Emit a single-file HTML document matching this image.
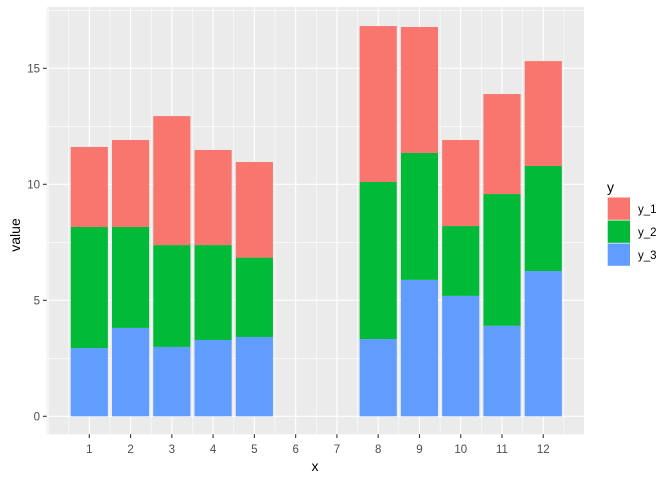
<!DOCTYPE html>
<html><head><meta charset="utf-8"><style>
body{margin:0;background:#fff;}
text{font-family:"Liberation Sans",Arial,sans-serif;}
</style></head><body>
<svg width="672" height="480" xmlns="http://www.w3.org/2000/svg">
<rect x="46.7" y="7" width="538.3" height="427.3" fill="#ebebeb"/>
<g id="grid"></g>
<g id="bars"></g>
<g id="axes"></g>
<text x="315" y="471" font-size="14" text-anchor="middle" fill="#000">x</text>
<text transform="translate(20,235) rotate(-90)" font-size="14" text-anchor="middle" fill="#000">value</text>
<g>
<text x="607" y="192" font-size="14">y</text>
<rect x="607.7" y="197.5" width="22.3" height="22.3" fill="#F8766D"/>
<rect x="607.7" y="220.5" width="22.3" height="22.3" fill="#00BA38"/>
<rect x="607.7" y="243.5" width="22.3" height="22.3" fill="#619CFF"/>
<text x="638" y="213" font-size="11.5">y_1</text>
<text x="638" y="236" font-size="11.5">y_2</text>
<text x="638" y="259" font-size="11.5">y_3</text>
</g>
</svg>
<script>
const categories=[1,2,3,4,5,6,7,8,9,10,11,12];
const y1=[3.45,3.75,5.56,4.10,4.12,0,0,6.72,5.43,3.71,4.31,4.52];
const y2=[5.22,4.35,4.39,4.09,3.42,0,0,6.77,5.47,3.01,5.68,4.53];
const y3=[2.94,3.81,2.99,3.29,3.42,0,0,3.33,5.88,5.19,3.90,6.26];
const yTicks=[0,5,10,15];
const NS="http://www.w3.org/2000/svg";
const xs=v=>89.3+(v-1)*41.27;
const ys=v=>416.3-v*23.2;
function mk(t,a,p){const e=document.createElementNS(NS,t);for(const k in a)e.setAttribute(k,a[k]);p.appendChild(e);return e;}
const grid=document.getElementById('grid'),bars=document.getElementById('bars'),axes=document.getElementById('axes');
for(let v=2.5;v<=17.5;v+=5){const l=mk('line',{x1:46.7,x2:585,y1:ys(v),y2:ys(v),stroke:'#fff','stroke-width':0.55},grid);

}
for(let v=0.5;v<=12.5;v+=1){const l=mk('line',{x1:xs(v),x2:xs(v),y1:7,y2:434.3,stroke:'#fff','stroke-width':0.55},grid);

}
[0,13].forEach(v=>{const l=mk('line',{x1:xs(v),x2:xs(v),y1:7,y2:434.3,stroke:'#fff','stroke-width':1.1},grid);

});
yTicks.forEach(v=>{const l=mk('line',{x1:46.7,x2:585,y1:ys(v),y2:ys(v),stroke:'#fff','stroke-width':1.1},grid);


const t=mk('line',{x1:43,x2:46.7,y1:ys(v),y2:ys(v),stroke:'#333','stroke-width':1.1},axes);


const tx=mk('text',{x:40,y:ys(v)+4,'font-size':11.5,'text-anchor':'end',fill:'#4d4d4d'},axes);tx.textContent=v;

});
categories.forEach((c,i)=>{const x=xs(c);
const l=mk('line',{x1:x,x2:x,y1:7,y2:434.3,stroke:'#fff','stroke-width':1.1},grid);


const t=mk('line',{x1:x,x2:x,y1:434.3,y2:438,stroke:'#333','stroke-width':1.1},axes);


const tx=mk('text',{x:x,y:453,'font-size':11.5,'text-anchor':'middle',fill:'#4d4d4d'},axes);tx.textContent=c;


let base=0;[[y3,'#619CFF','y3'],[y2,'#00BA38','y2'],[y1,'#F8766D','y1']].forEach(([arr,col,n])=>{const v=arr[i];if(!v)return;
const r=mk('rect',{x:x-18.57,width:37.14,y:ys(base+v),height:ys(base)-ys(base+v),fill:col},bars);


base+=v;});});
</script>
</body></html>
